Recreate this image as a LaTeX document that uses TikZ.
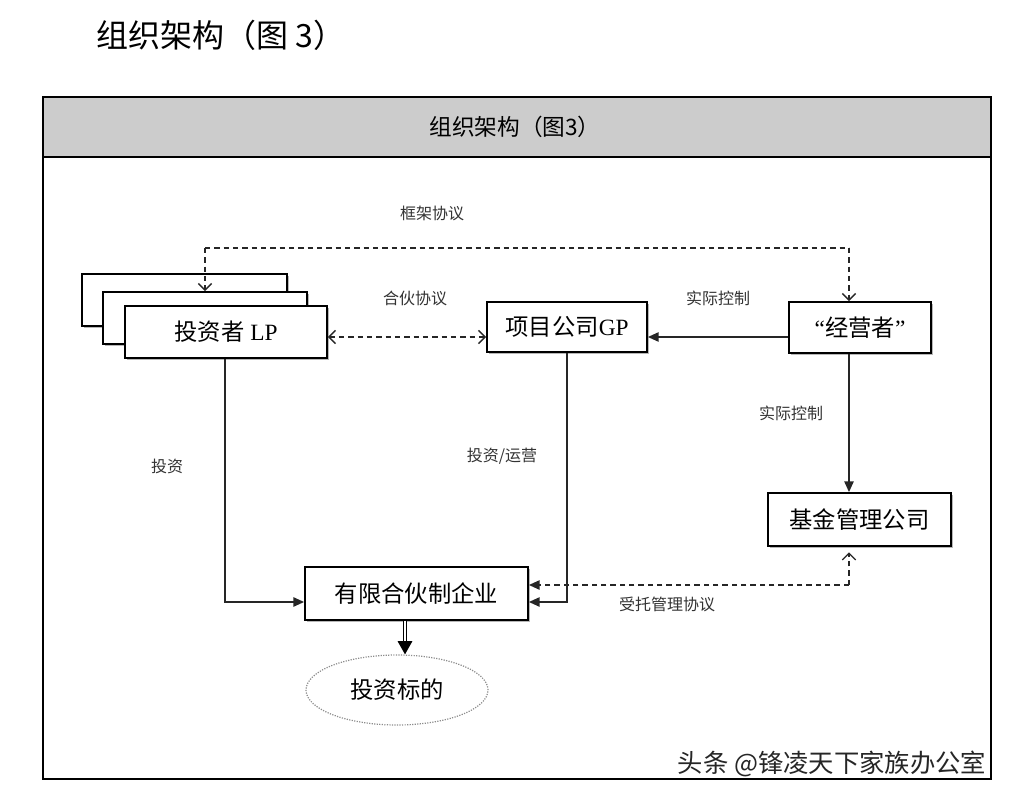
\documentclass[tikz,border=0pt]{standalone}
\usepackage{fontspec}
\setmainfont{Liberation Serif}
\newfontfamily\cjk{Noto Sans CJK SC}
\usetikzlibrary{arrows.meta,shapes.geometric,shadows}
\begin{document}
\begin{tikzpicture}[x=0.75pt,y=-0.75pt,
  box/.style={draw=black, line width=1.4pt, fill=white, inner sep=0pt,
    drop shadow={shadow xshift=1.2pt,shadow yshift=-1.2pt,fill=black!40,opacity=0.7},
    font=\fontsize{17.5}{20}\selectfont},
  lbl/.style={font=\cjk\fontsize{12}{14}\selectfont, text=black!80},
  conn/.style={line width=1.1pt, draw=black!85},
  dsh/.style={conn, dash pattern=on 4pt off 3pt},
  fill tip/.style={-{Triangle[length=8pt,width=7pt]}},
  open tip/.style={-{Straight Barb[length=5pt,width=10pt,line width=1pt]}},
]
\useasboundingbox (0,0) rectangle (1014,798);
\fill[white] (0,0) rectangle (1014,798);

% page title
\node[anchor=west, font=\cjk\fontsize{24}{28}\selectfont] (title) at (92,35) {组织架构（图 3）};

% frame and header
\fill[black!20] (43,97) rectangle (991,157);
\draw[line width=1.2pt] (43,157) -- (991,157);
\draw[line width=1.2pt] (43,97) rectangle (991,779);
\node[font=\cjk\fontsize{17}{20}\selectfont] (head) at (515,127) {组织架构（图3）};

% investor stack
\node[box, minimum width=153.75pt, minimum height=39pt] (lpb) at (184.5,300) {};
\node[box, minimum width=153pt, minimum height=39pt] (lpm) at (205,318) {};
\node[box, minimum width=151.5pt, minimum height=39pt] (lp) at (226,332) {{\cjk 投资者} LP};

\node[box, minimum width=120pt, minimum height=37.5pt] (gp) at (567,327) {{\cjk 项目公司}GP};
\node[box, minimum width=106.5pt, minimum height=38.25pt] (op) at (860,327.5) {“{\cjk 经营者}”};
\node[box, minimum width=137.25pt, minimum height=39.75pt] (fm) at (859.5,519.5) {\cjk 基金管理公司};
\node[box, minimum width=167.25pt, minimum height=39.75pt] (lpe) at (416.5,593.5) {\cjk 有限合伙制企业};
\node[ellipse, draw=black!45, densely dotted, line width=0.9pt, minimum width=136.5pt, minimum height=52.5pt,
  font=\cjk\fontsize{17.5}{20}\selectfont] (tgt) at (397,690) {投资标的};

% helper coordinates
\coordinate (yframe) at (0,248);
\coordinate (ymid) at (0,337);
\coordinate (xl) at (205,0);
\coordinate (xr) at (849,0);
\coordinate (xinv) at (225,0);
\coordinate (xgp) at (567,0);
\coordinate (ylow) at (0,602);
\coordinate (ydash) at (0,585);
\coordinate (xdown) at (405,0);

% framework agreement
\draw[dsh] (xl |- yframe) -- (xr |- yframe);
\draw[dsh, open tip] (xl |- yframe) -- (xl |- lpm.north);
\draw[dsh, open tip] (xr |- yframe) -- (xr |- op.north);
\node[lbl] (l1) at (432,213) {框架协议};

% partnership agreement
\draw[dsh, {Straight Barb[length=5pt,width=10pt,line width=1pt]}-{Straight Barb[length=5pt,width=10pt,line width=1pt]}]
  (lp.east |- ymid) -- (gp.west |- ymid);
\node[lbl] (l2) at (415,298) {合伙协议};

% actual control
\draw[conn, fill tip] (op.west |- ymid) -- (gp.east |- ymid);
\node[lbl] (l3) at (718,298) {实际控制};
\draw[conn, fill tip] (xr |- op.south) -- (xr |- fm.north);
\node[lbl] (l4) at (791,413) {实际控制};

% investment
\draw[conn, fill tip] (xinv |- lp.south) -- (xinv |- ylow) -- (lpe.west |- ylow);
\node[lbl] (l5) at (167,466) {投资};
\draw[conn, fill tip] (xgp |- gp.south) -- (xgp |- ylow) -- (lpe.east |- ylow);
\node[lbl] (l6) at (502,456) {投资/运营};

% entrusted management
\draw[dsh, fill tip] (xr |- ydash) -- (lpe.east |- ydash);
\draw[dsh, open tip] (xr |- ydash) -- ([yshift=-4pt]xr |- fm.south);
\node[lbl] (l7) at (667,604) {受托管理协议};

% to target
\draw[double=white, double distance=1.8pt, line width=0.9pt, -{Triangle[length=10pt,width=11pt]}]
  (xdown |- lpe.south) -- (xdown |- tgt.north);

% watermark
\node[anchor=east, font=\cjk\fontsize{19}{22}\selectfont, text=black!85] (wm) at (991,764) {头条 @锋凌天下家族办公室};
\end{tikzpicture}
\end{document}
